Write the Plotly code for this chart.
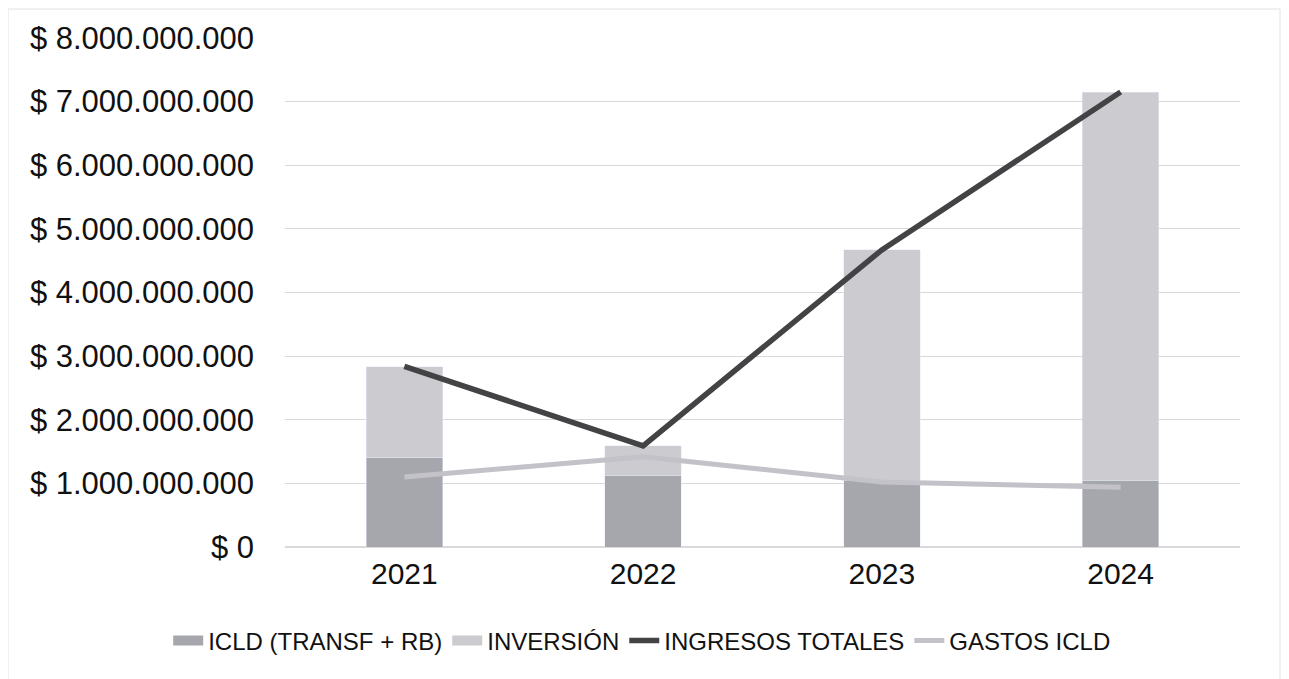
import plotly.graph_objects as go

years = ["2021", "2022", "2023", "2024"]
icld = [1.40e9, 1.12e9, 1.05e9, 1.05e9]
inversion = [1.43e9, 0.47e9, 3.62e9, 6.10e9]
ingresos_totales = [2.84e9, 1.59e9, 4.67e9, 7.15e9]
gastos_icld = [1.10e9, 1.42e9, 1.02e9, 0.94e9]

COLORS = {
    "icld": "#a6a6ad",
    "inversion": "#cbcbd0",
    "ingresos": "#434345",
    "gastos": "#c2c2c8",
    "grid": "#d9d9d9",
    "text": "#111111",
}

fig = go.Figure()
# bars keep out of the legend; wide swatches are drawn by the empty entries below
fig.add_trace(go.Bar(x=years, y=icld, name="ICLD (TRANSF + RB)", marker_color=COLORS["icld"],
                     legendgroup="icld", showlegend=False))
fig.add_trace(go.Bar(x=years, y=inversion, name="INVERSIÓN", marker_color=COLORS["inversion"],
                     legendgroup="inv", showlegend=False))
fig.add_trace(go.Scatter(x=[None], y=[None], name="ICLD (TRANSF + RB)", mode="lines",
                         line=dict(color=COLORS["icld"], width=10), legendgroup="icld"))
fig.add_trace(go.Scatter(x=[None], y=[None], name="INVERSIÓN", mode="lines",
                         line=dict(color=COLORS["inversion"], width=10), legendgroup="inv"))
fig.add_trace(
    go.Scatter(
        x=years, y=ingresos_totales, name="INGRESOS TOTALES", mode="lines",
        line=dict(color=COLORS["ingresos"], width=5.5),
    )
)
fig.add_trace(
    go.Scatter(
        x=years, y=gastos_icld, name="GASTOS ICLD", mode="lines",
        line=dict(color=COLORS["gastos"], width=5),
    )
)

fig.update_layout(
    barmode="stack",
    bargap=0.68,
    width=1289,
    height=679,
    paper_bgcolor="white",
    plot_bgcolor="white",
    separators=",.",
    font=dict(family="Liberation Sans, Arial, sans-serif", color=COLORS["text"], size=24),
    margin=dict(l=277, r=57, t=30, b=140),
    xaxis=dict(showgrid=False, showline=False, ticks="", tickfont=dict(size=30),
               ticklabelstandoff=6),
    yaxis=dict(
        range=[0, 8e9],
        dtick=1e9,
        tickprefix="$ ",
        tickformat=",d",
        gridcolor=COLORS["grid"],
        zeroline=True,
        zerolinecolor=COLORS["grid"],
        tickfont=dict(size=31),
        ticklabelstandoff=30,
    ),
    legend=dict(
        orientation="h",
        xref="container",
        yref="container",
        x=0.492,
        xanchor="center",
        y=0.068,
        yanchor="middle",
        font=dict(size=24),
        traceorder="normal",
    ),
    shapes=[
        dict(
            type="rect", xref="paper", yref="paper",
            x0=-277 / 955, x1=1 + 40 / 955, y0=-138 / 509, y1=1 + 29 / 509,
            line=dict(color="#e2e2e2", width=1),
        )
    ],
)

fig.write_html("out.html")
